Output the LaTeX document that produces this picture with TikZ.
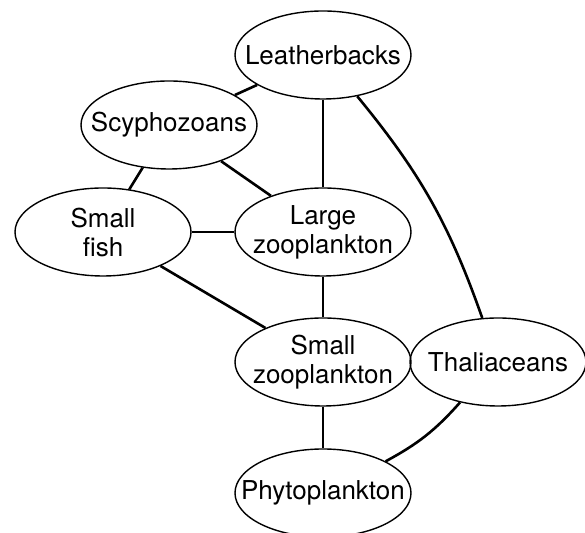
\documentclass[tikz,border=0pt]{standalone}
\usepackage{fontspec}
\setmainfont{TeX Gyre Heros}
\usetikzlibrary{shapes.geometric}

\begin{document}
\begin{tikzpicture}[x=0.5pt, y=-0.5pt]
        \tikzstyle{species}=[ellipse, draw, line width=0.7pt, minimum width=88pt, minimum height=44pt, inner sep=-15pt, align=center, font=\fontsize{13}{14.5}\selectfont]
        \tikzstyle{link}=[line width=1.3pt]

        \useasboundingbox (0,0) rectangle (585,533);

        \node[species] (lb) at (323,55) {Leatherbacks};
        \node[species] (sc) at (169,125) {Scyphozoans};
        \node[species] (sf) at (103,232) {Small\\fish};
        \node[species] (lz) at (323,232) {Large\\zooplankton};
        \node[species] (sz) at (323,362) {Small\\zooplankton};
        \node[species] (th) at (498,362) {Thaliaceans};
        \node[species] (ph) at (323,493) {Phytoplankton};

        \draw[link] (lb) -- (sc);
        \draw[link] (lb) -- (lz);
        \draw[link] (lb) to[bend left=10] (th);
        \draw[link] (sc) -- (sf);
        \draw[link] (sc) -- (lz);
        \draw[link] (sf) -- (lz);
        \draw[link] (sf) -- (sz);
        \draw[link] (lz) -- (sz);
        \draw[link] (sz) -- (ph);
        \draw[link] (th) to[bend left=10] (ph);
    \end{tikzpicture}
\end{document}
